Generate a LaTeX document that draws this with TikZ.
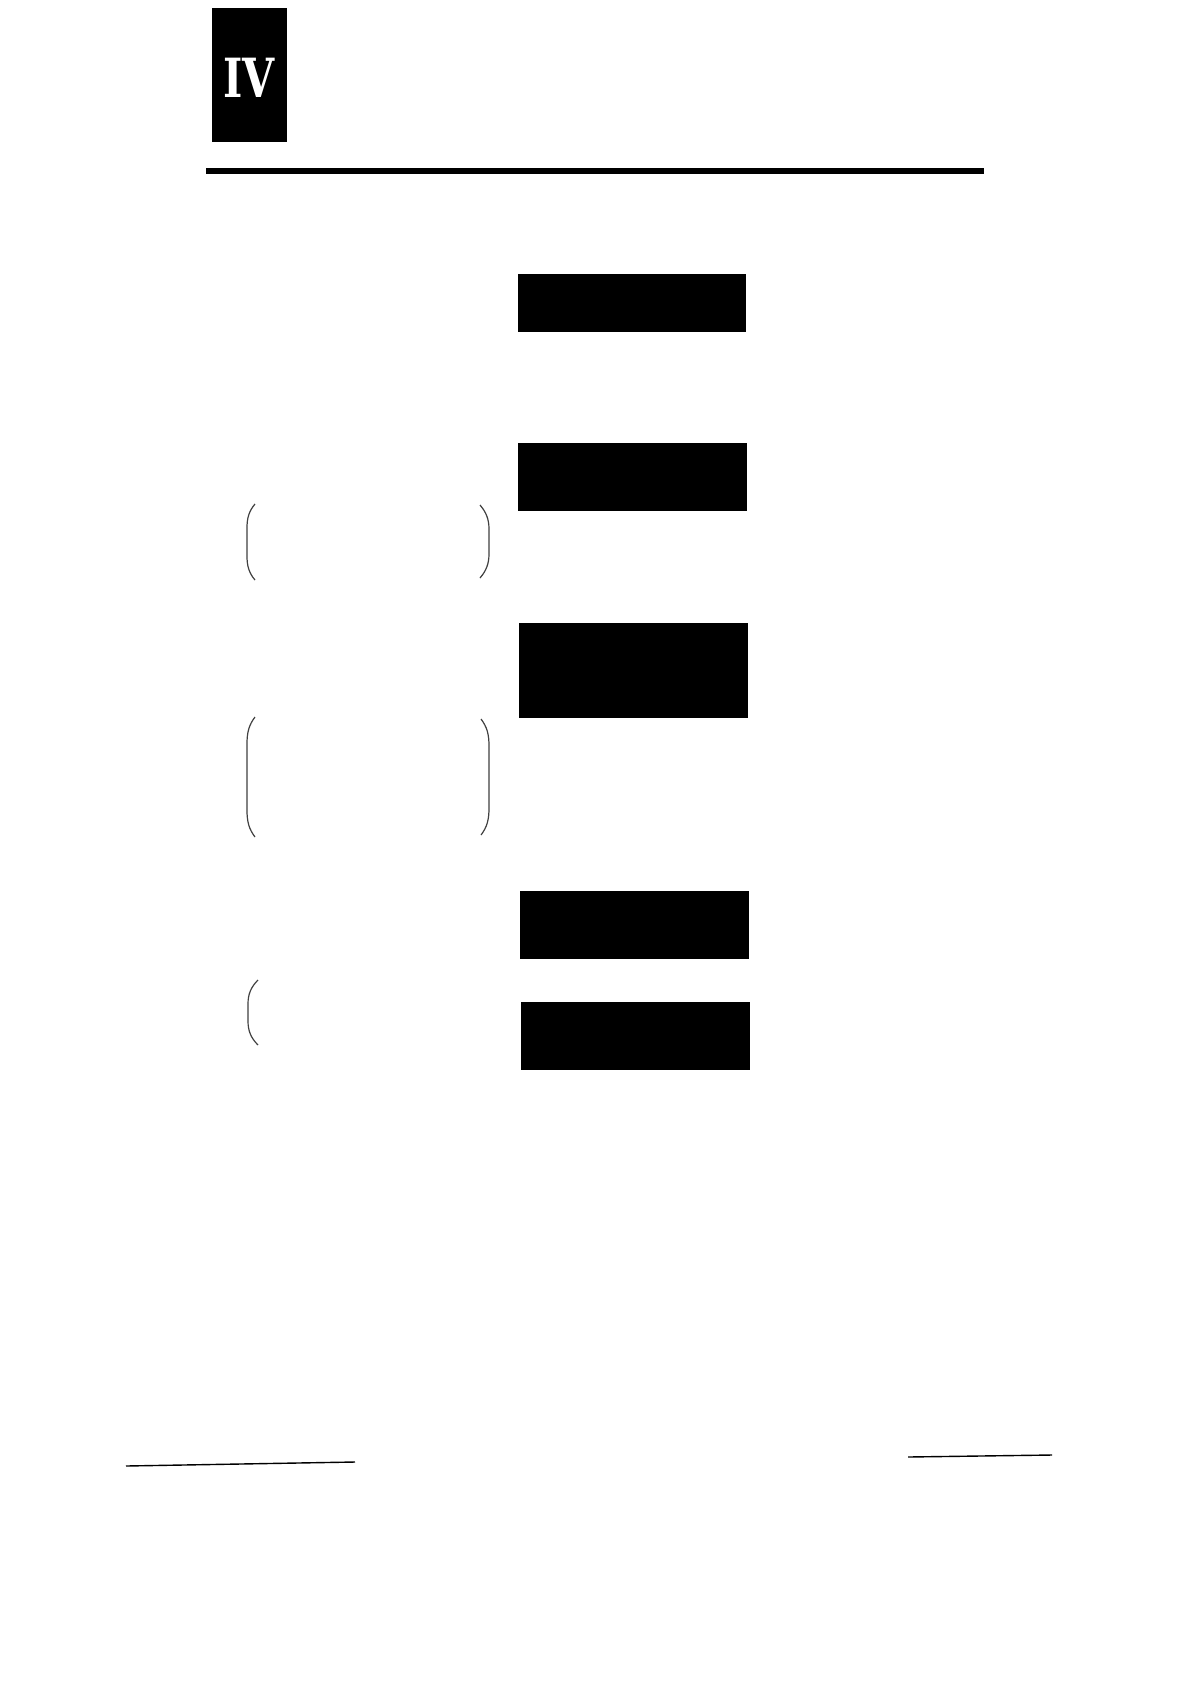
\documentclass[tikz,border=0pt]{standalone}
\usepackage{fontspec}
\setmainfont{Liberation Serif}
\newfontfamily\tabfont{DejaVu Serif Condensed}
\begin{document}
\begin{tikzpicture}[x=0.5pt,y=-0.5pt,
  blackbox/.style={fill=black,draw=none,inner sep=0pt,outer sep=0pt,anchor=north west},
  bracket/.style={draw=black!75,line width=0.6pt},
  rule/.style={draw=black,line width=0.7pt}]
\useasboundingbox[fill=white] (0,0) rectangle (1202,1692);
% chapter tab
\node[blackbox,minimum width=37.5pt,minimum height=67pt] (tab) at (212,8) {};
\node[text=white,font=\tabfont\bfseries\fontsize{27pt}{27pt}\selectfont,xscale=0.85,inner sep=0pt] (num) at (249,78) {IV};
% heading rule
\draw[line width=3pt] (206,171) coordinate (ruleL) -- (984,171) coordinate (ruleR);
% black boxes
\node[blackbox,minimum width=114pt,minimum height=29pt] (b1) at (518,274) {};
\node[blackbox,minimum width=114.5pt,minimum height=34pt] (b2) at (518,443) {};
\node[blackbox,minimum width=114.5pt,minimum height=47.5pt] (b3) at (519,623) {};
\node[blackbox,minimum width=114.5pt,minimum height=34pt] (b4) at (520,891) {};
\node[blackbox,minimum width=114.5pt,minimum height=34pt] (b5) at (521,1002) {};
% brackets pair 1
\draw[bracket] (255,504) .. controls (249,511) and (247,518) .. (247,528) -- (247,556) .. controls (247,566) and (249,573) .. (255,580);
\draw[bracket] (480,505) .. controls (486,512) and (489,519) .. (489,529) -- (489,554) .. controls (489,564) and (486,571) .. (480,578);
% brackets pair 2
\draw[bracket] (255,717) .. controls (249,725) and (247,732) .. (247,744) -- (247,810) .. controls (247,822) and (249,829) .. (255,837);
\draw[bracket] (481,719) .. controls (487,727) and (489,734) .. (489,746) -- (489,808) .. controls (489,820) and (487,827) .. (481,835);
% single bracket
\draw[bracket] (258,980) .. controls (251,987) and (248,994) .. (248,1004) -- (248,1021) .. controls (248,1031) and (251,1038) .. (258,1045);
% bottom rules
\draw[rule] (126,1466) coordinate (fl1) -- (355,1462) coordinate (fl2);
\draw[rule] (908,1457) coordinate (fr1) -- (1052,1455) coordinate (fr2);
\end{tikzpicture}
\end{document}
